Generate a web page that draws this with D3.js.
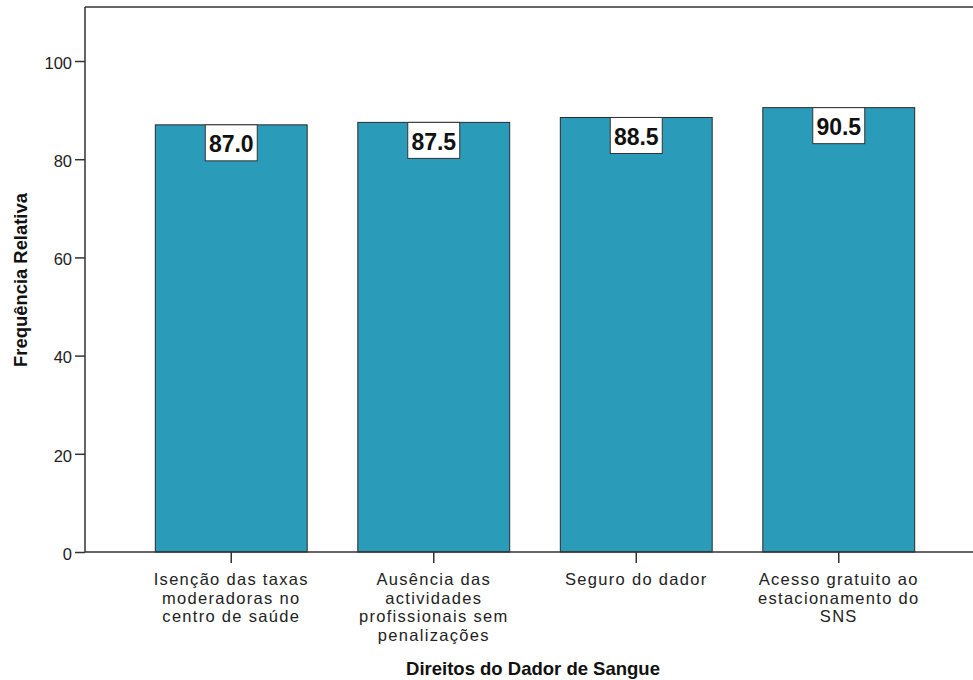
<!DOCTYPE html>
<html>
<head>
<meta charset="utf-8">
<script src="https://cdn.jsdelivr.net/npm/d3@7"></script>
<style>
  body { margin: 0; background: #fff; }
  text { font-family: "Liberation Sans", Arial, sans-serif; }
</style>
</head>
<body>
<svg id="chart" width="973" height="680"></svg>
<script>
const categories = [
  ["Isenção das taxas", "moderadoras no", "centro de saúde"],
  ["Ausência das", "actividades", "profissionais sem", "penalizações"],
  ["Seguro do dador"],
  ["Acesso gratuito ao", "estacionamento do", "SNS"]
];
const values = [87.0, 87.5, 88.5, 90.5];
const yTicks = [0, 20, 40, 60, 80, 100];

const svg = d3.select("#chart");
const plotLeft = 85, plotTop = 7, plotRight = 973, plotBottom = 552;

const x = d3.scaleBand()
    .domain(d3.range(categories.length))
    .range([130, 940])
    .paddingInner(0.25)
    .paddingOuter(0.125);

const y = d3.scaleLinear()
    .domain([0, 111])
    .range([plotBottom, plotTop]);

// frame: top line
svg.append("line")
    .attr("x1", plotLeft).attr("x2", plotRight)
    .attr("y1", plotTop).attr("y2", plotTop)
    .attr("stroke", "#333").attr("stroke-width", 1.5);

// bars
svg.selectAll("rect.bar")
    .data(values)
    .join("rect")
    .attr("class", "bar")
    .attr("x", (d, i) => x(i))
    .attr("width", x.bandwidth())
    .attr("y", d => y(d))
    .attr("height", d => y(0) - y(d))
    .attr("fill", "#2a9bb8")
    .attr("stroke", "#2a2a2a")
    .attr("stroke-width", 1);

// value labels
const lab = svg.selectAll("g.lab")
    .data(values)
    .join("g")
    .attr("class", "lab")
    .attr("transform", (d, i) => `translate(${x(i) + x.bandwidth() / 2},${y(d)})`);

lab.append("rect")
    .attr("x", -26).attr("y", 0)
    .attr("width", 52).attr("height", 36)
    .attr("fill", "#fff")
    .attr("stroke", "#333");

lab.append("text")
    .attr("text-anchor", "middle")
    .attr("y", 27.5)
    .attr("font-size", 23)
    .attr("font-weight", "bold")
    .attr("fill", "#111")
    .text(d => d.toFixed(1));

// y axis
const yAxis = svg.append("g")
    .attr("transform", `translate(${plotLeft},0)`)
    .call(d3.axisLeft(y).tickValues(yTicks).tickSize(10).tickSizeOuter(0));
yAxis.select(".domain").attr("stroke", "#333").attr("stroke-width", 1.5)
    .attr("d", `M0,${plotTop}V${plotBottom}`);
yAxis.selectAll(".tick line").attr("stroke", "#333").attr("stroke-width", 1.5);
yAxis.selectAll(".tick text")
    .attr("font-size", 16.5)
    .attr("fill", "#222")
    .attr("x", -13)
    .attr("dy", "0.44em")
    .attr("font-family", "'Liberation Sans', Arial, sans-serif");

// x axis
const xAxis = svg.append("g")
    .attr("transform", `translate(0,${plotBottom})`)
    .call(d3.axisBottom(x).tickSize(11).tickSizeOuter(0).tickFormat(""));
xAxis.select(".domain").attr("stroke", "#333").attr("stroke-width", 1.5)
    .attr("d", `M${plotLeft},0H${plotRight}`);
xAxis.selectAll(".tick line").attr("stroke", "#333").attr("stroke-width", 1.5);

xAxis.selectAll(".tick").each(function (d) {
  const t = d3.select(this).append("text")
      .attr("text-anchor", "middle")
      .attr("fill", "#222")
      .attr("font-size", 16.5)
      .attr("letter-spacing", "1.3px")
      .attr("font-family", "'Liberation Sans', Arial, sans-serif");
  categories[d].forEach((line, k) => {
    t.append("tspan").attr("x", 0).attr("y", 33 + k * 18.7).text(line);
  });
});

// axis titles
svg.append("text")
    .attr("x", 533).attr("y", 675)
    .attr("text-anchor", "middle")
    .attr("font-size", 18.5)
    .attr("font-weight", "bold")
    .attr("fill", "#111")
    .text("Direitos do Dador de Sangue");

svg.append("text")
    .attr("transform", "translate(27,280) rotate(-90)")
    .attr("text-anchor", "middle")
    .attr("font-size", 18.4)
    .attr("font-weight", "bold")
    .attr("fill", "#111")
    .text("Frequência Relativa");
</script>
</body>
</html>
